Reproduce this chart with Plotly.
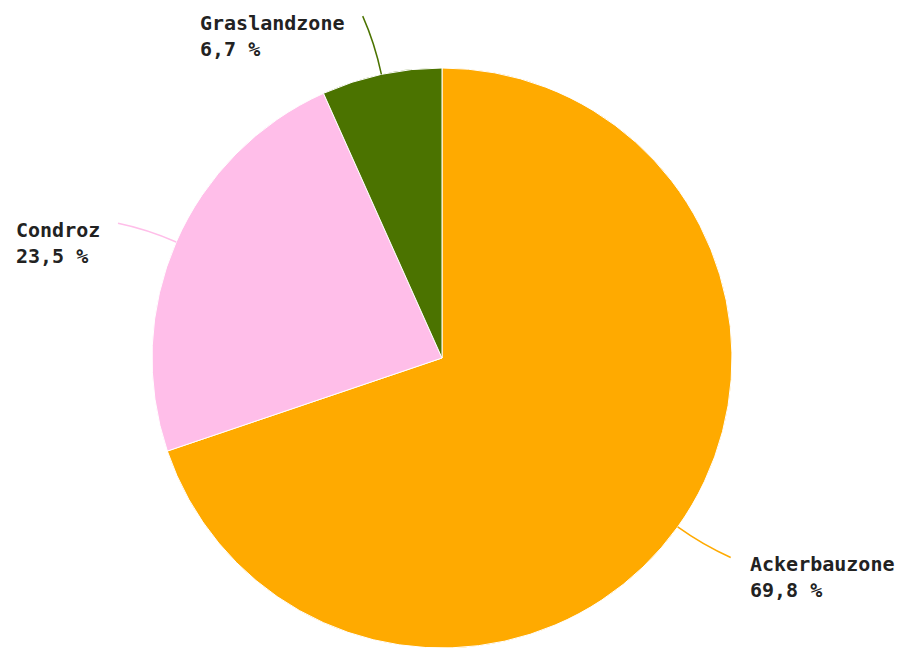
import math
import plotly.graph_objects as go

labels = ["Ackerbauzone", "Condroz", "Graslandzone"]
values = [69.8, 23.5, 6.7]
value_text = ["69,8 %", "23,5 %", "6,7 %"]
colors = ["#FFAA00", "#FFBEE9", "#4B7300"]

W, H = 899, 648
CX, CY, R = 442, 358, 290  # pie centre and radius in pixels

fig = go.Figure(go.Pie(
    labels=labels, values=values, sort=False, direction="clockwise", rotation=0,
    marker=dict(colors=colors, line=dict(color="white", width=1)),
    textinfo="none", hoverinfo="label+percent", showlegend=False,
    domain=dict(x=[(CX - R) / W, (CX + R) / W], y=[(H - CY - R) / H, (H - CY + R) / H]),
))

def paper(px, py):
    return px / W, 1 - py / H

total = sum(values)
cum = 0
shapes, annotations = [], []
for lab, v, vt, col in zip(labels, values, value_text, colors):
    mid = (cum + v / 2) / total * 2 * math.pi
    cum += v
    sx, sy = CX + R * math.sin(mid), CY - R * math.cos(mid)
    cx_, cy_ = CX + 1.11 * R * math.sin(mid), CY - 1.11 * R * math.cos(mid)
    ea = mid - math.radians(1.0)
    ex, ey = CX + 1.21 * R * math.sin(ea), CY - 1.21 * R * math.cos(ea)
    p0, p1, p2 = paper(sx, sy), paper(cx_, cy_), paper(ex, ey)
    shapes.append(dict(type="path", xref="paper", yref="paper",
                       path=f"M {p0[0]},{p0[1]} Q {p1[0]},{p1[1]} {p2[0]},{p2[1]}",
                       line=dict(color=col, width=1.5)))
    right = math.sin(mid) > 0
    tx = ex + 17 if right else ex - 16
    ax, ay = paper(tx, ey - 7)
    annotations.append(dict(
        x=ax, y=ay, xref="paper", yref="paper", showarrow=False,
        text=f"{lab}<br>{vt}", align="left",
        xanchor="left" if right else "right", yanchor="top",
        font=dict(family="DejaVu Sans Mono", size=20, color="#222222", weight="bold"),
    ))

fig.update_layout(
    width=W, height=H, margin=dict(l=0, r=0, t=0, b=0),
    paper_bgcolor="white", plot_bgcolor="white",
    shapes=shapes, annotations=annotations,
)
fig.write_html("out.html")
